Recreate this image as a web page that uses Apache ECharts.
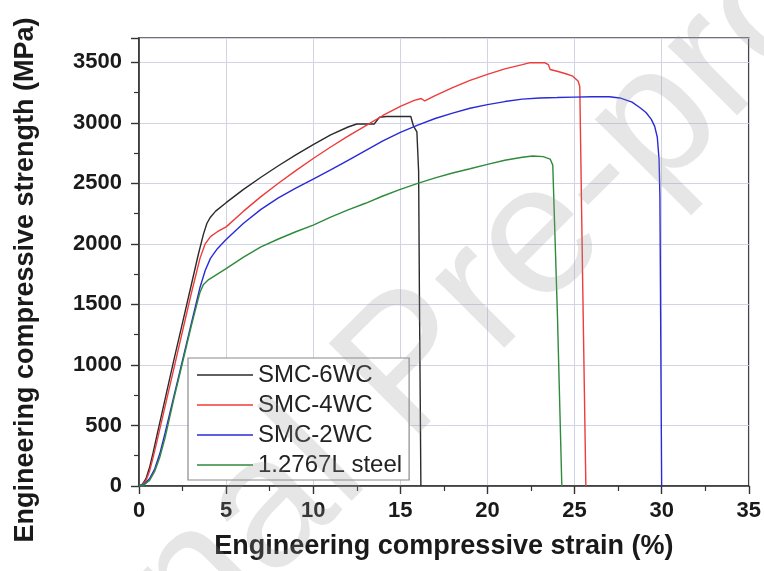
<!DOCTYPE html>
<html>
<head>
<meta charset="utf-8">
<script src="https://cdn.jsdelivr.net/npm/echarts@6/dist/echarts.min.js"></script>
<style>
  html, body { margin: 0; padding: 0; background: #fff; }
  #chart { width: 764px; height: 571px; }
</style>
</head>
<body>
<div id="chart"></div>
<script>
// Compressive stress–strain curves (strain in %, stress in MPa)
const seriesNames = ['SMC-6WC', 'SMC-4WC', 'SMC-2WC', '1.2767L steel'];
const seriesColors = ['#2b2b2b', '#ee3b3b', '#2a2ad8', '#2f8a3c'];

const smc6Strain = [0, 0.2, 0.4, 0.6, 0.8, 1.0, 1.5, 2.0, 2.5, 3.0, 3.4, 3.7, 3.9, 4.1, 4.4, 5.0, 6.0, 7.0, 8.0, 9.0, 10.0, 11.0, 12.0, 12.5, 13.5, 13.8, 14.2, 15.6, 15.75, 15.95, 16.05, 16.1, 16.18];
const smc6Stress = [0, 15, 60, 150, 270, 400, 720, 1040, 1350, 1660, 1910, 2080, 2170, 2220, 2270, 2340, 2450, 2550, 2645, 2735, 2820, 2900, 2965, 2990, 2990, 3045, 3052, 3052, 2975, 2925, 2600, 1500, 0];

const smc4Strain = [0, 0.2, 0.4, 0.6, 0.8, 1.0, 1.5, 2.0, 2.5, 3.0, 3.5, 3.8, 4.1, 4.5, 5.0, 6.0, 7.0, 8.0, 9.0, 10.0, 11.0, 12.0, 13.0, 14.0, 15.0, 15.8, 16.2, 16.4, 17.0, 18.0, 19.0, 20.0, 21.0, 22.0, 22.4, 23.3, 23.5, 23.6, 24.0, 24.5, 24.9, 25.2, 25.3, 25.47, 25.65];
const smc4Stress = [0, 10, 45, 120, 230, 350, 660, 970, 1280, 1590, 1880, 2000, 2060, 2100, 2140, 2270, 2390, 2500, 2605, 2705, 2800, 2890, 2975, 3060, 3135, 3185, 3200, 3180, 3225, 3290, 3350, 3400, 3445, 3480, 3495, 3495, 3480, 3440, 3425, 3405, 3385, 3345, 3300, 1650, 0];

const smc2Strain = [0, 0.3, 0.6, 0.9, 1.2, 1.5, 2.0, 2.5, 3.0, 3.5, 3.8, 4.1, 4.5, 5.0, 6.0, 7.0, 8.0, 9.0, 10.0, 11.0, 12.0, 13.0, 14.0, 15.0, 16.0, 17.0, 18.0, 19.0, 20.0, 21.0, 22.0, 23.0, 24.0, 25.0, 26.0, 27.0, 27.6, 28.3, 28.8, 29.1, 29.4, 29.6, 29.75, 29.85, 29.9, 30.0];
const smc2Stress = [0, 15, 60, 140, 270, 440, 740, 1040, 1340, 1640, 1780, 1880, 1960, 2035, 2170, 2285, 2380, 2460, 2535, 2610, 2690, 2770, 2850, 2920, 2980, 3035, 3080, 3120, 3150, 3175, 3195, 3205, 3208, 3212, 3215, 3215, 3205, 3170, 3120, 3085, 3030, 2970, 2880, 2700, 2400, 0];

const steelStrain = [0, 0.3, 0.6, 0.9, 1.2, 1.5, 2.0, 2.5, 3.0, 3.3, 3.5, 3.7, 4.0, 4.5, 5.0, 6.0, 7.0, 8.0, 9.0, 10.0, 11.0, 12.0, 13.0, 14.0, 15.0, 16.0, 17.0, 18.0, 19.0, 20.0, 21.0, 22.0, 22.6, 23.2, 23.6, 23.75, 24.02, 24.27];
const steelStress = [0, 10, 45, 120, 240, 400, 720, 1020, 1320, 1490, 1600, 1665, 1705, 1750, 1795, 1890, 1975, 2040, 2100, 2155, 2220, 2280, 2335, 2395, 2450, 2500, 2545, 2585, 2620, 2656, 2690, 2715, 2725, 2720, 2700, 2650, 1400, 0];

const strainTicks = { min: 0, max: 35, interval: 5 };
const stressTicks = { min: 0, max: 3700, interval: 500 };

const curves = [
  [smc6Strain, smc6Stress],
  [smc4Strain, smc4Stress],
  [smc2Strain, smc2Stress],
  [steelStrain, steelStress]
];

const font = '"Liberation Sans", Arial, sans-serif';

const chart = echarts.init(document.getElementById('chart'), null, { renderer: 'canvas' });

const axisCommon = {
  axisLine: { show: true, onZero: false, lineStyle: { color: '#333', width: 1.6 } },
  axisTick: { show: true, inside: false, length: 8, lineStyle: { color: '#333', width: 1.4 } },
  minorTick: { show: true, splitNumber: 2, length: 5, lineStyle: { color: '#333', width: 1.2 } },
  splitLine: { show: true, lineStyle: { color: '#d3d3e6', width: 1 } },
  axisLabel: {
    color: '#1a1a1a', fontFamily: font, fontWeight: 'bold', fontSize: 22,
    formatter: function (v) { return String(v); }
  },
  nameLocation: 'middle',
  nameTextStyle: { color: '#1a1a1a', fontFamily: font, fontWeight: 'bold', fontSize: 27 }
};

chart.setOption({
  animation: false,
  backgroundColor: '#ffffff',
  grid: {
    left: 139, right: 15, top: 38, bottom: 85,
    show: true, borderColor: '#444', borderWidth: 1.6, backgroundColor: 'transparent'
  },
  xAxis: Object.assign({}, axisCommon, {
    type: 'value',
    min: strainTicks.min, max: strainTicks.max, interval: strainTicks.interval,
    name: 'Engineering compressive strain (%)',
    nameGap: 47,
    axisLabel: Object.assign({}, axisCommon.axisLabel, { margin: 14 })
  }),
  yAxis: Object.assign({}, axisCommon, {
    type: 'value',
    min: stressTicks.min, max: stressTicks.max, interval: stressTicks.interval,
    name: 'Engineering compressive strength (MPa)',
    nameGap: 100,
    nameTextStyle: Object.assign({}, axisCommon.nameTextStyle, { padding: [0, 36, 0, 0] }),
    axisLabel: Object.assign({}, axisCommon.axisLabel, { margin: 17, showMaxLabel: false })
  }),
  legend: {
    orient: 'vertical',
    left: 188, top: 358,
    padding: [5, 7, 3, 9],
    itemWidth: 56, itemHeight: 1.5, itemGap: 6,
    icon: 'rect',
    backgroundColor: '#fff',
    borderColor: '#8a8a8a', borderWidth: 1.2,
    textStyle: { color: '#222', fontFamily: font, fontSize: 24, lineHeight: 24 },
    data: seriesNames
  },
  series: curves.map(function (c, i) {
    return {
      name: seriesNames[i],
      type: 'line',
      showSymbol: false,
      symbol: 'none',
      color: seriesColors[i],
      lineStyle: { color: seriesColors[i], width: 1.4 },
      data: c[0].map(function (x, k) { return [x, c[1][k]]; }),
      z: 3
    };
  }),
  graphic: [{
    type: 'text',
    x: 412, y: 368,
    rotation: Math.PI / 4,
    silent: true,
    z: 100,
    style: {
      text: 'Journal Pre-proof',
      fontFamily: font,
      fontSize: 185,
      fill: 'rgba(150,150,150,0.24)',
      align: 'center',
      verticalAlign: 'middle'
    }
  }]
});
</script>
</body>
</html>
